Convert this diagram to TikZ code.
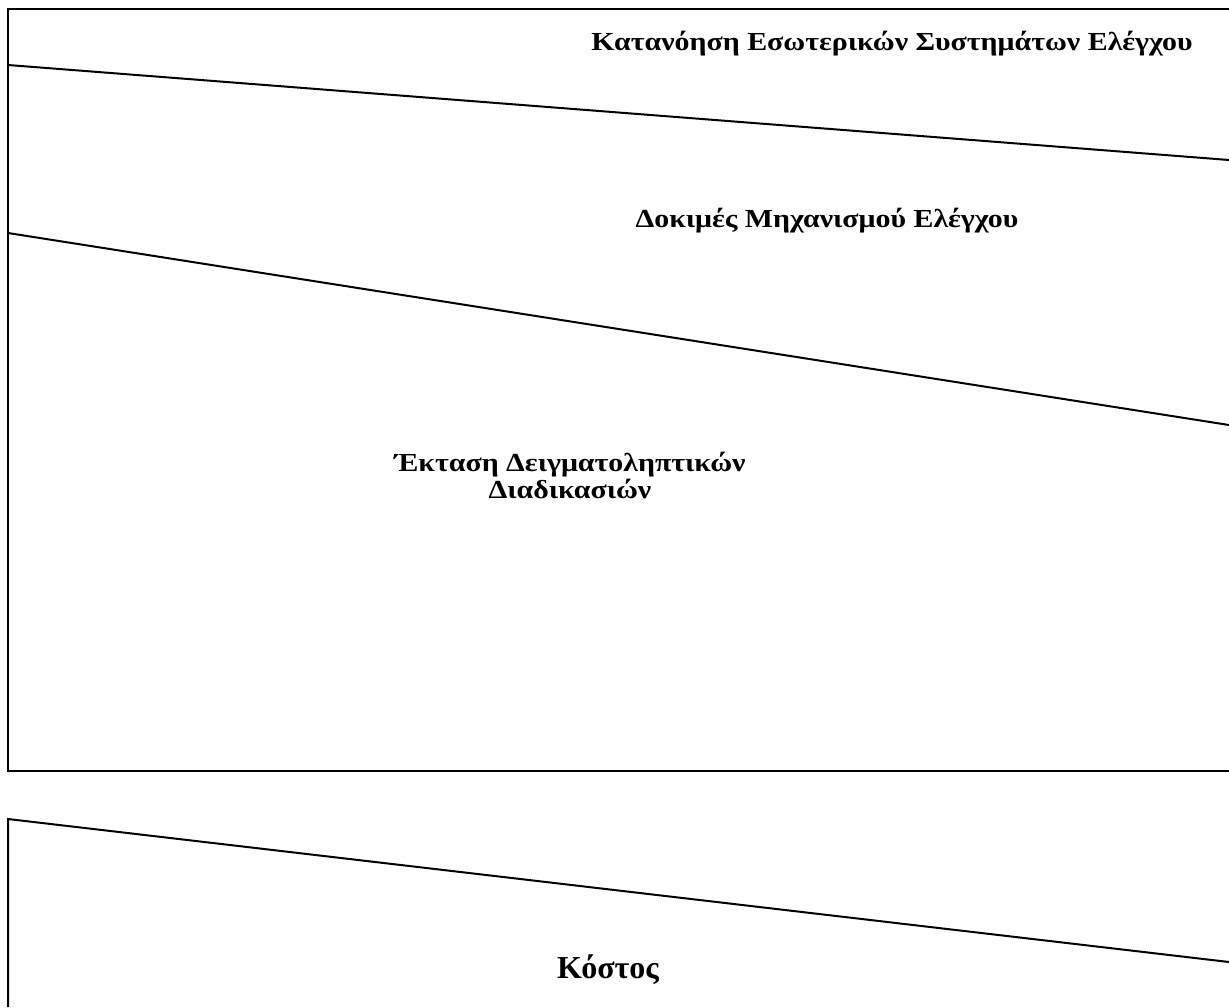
\documentclass[tikz,border=0pt]{standalone}
\usepackage{fontspec}
\setmainfont{Liberation Serif}
\newfontfamily\widefont[FakeStretch=1.15]{Liberation Serif}
\begin{document}
\begin{tikzpicture}[x=1pt,y=-1pt,
  edge/.style={line width=2pt,black},
  lbl/.style={font=\widefont\fontsize{26}{27}\selectfont\bfseries,anchor=base,inner sep=0pt,align=center},
  biglbl/.style={font=\fontsize{32}{34}\selectfont\bfseries,anchor=base,inner sep=0pt}]
\useasboundingbox (0,0) rectangle (1229,1007);
% top frame corners
\coordinate (tl) at (8,9);
\coordinate (tr) at (1229,9);
\coordinate (bl) at (8,771);
\coordinate (br) at (1229,771);
% dividing lines
\coordinate (a1) at (8,65);
\coordinate (a2) at (1229,160);
\coordinate (b1) at (8,233);
\coordinate (b2) at (1229,425);
% bottom frame
\coordinate (c0) at (8,1007);
\coordinate (c1) at (8,819);
\coordinate (c2) at (1229,962);

\draw[edge] (tr) -- (tl) -- (bl) -- (br);
\draw[edge] (a1) -- (a2);
\draw[edge] (b1) -- (b2);
\draw[edge] (c0) -- (c1) -- (c2);

\node[lbl] (t1) at (892,50) {Κατανόηση Εσωτερικών Συστημάτων Ελέγχου};
\node[lbl] (t2) at (827,227) {Δοκιμές Μηχανισμού Ελέγχου};
\node[lbl] (t3) at (570,498) {Έκταση Δειγματοληπτικών\\Διαδικασιών};
\node[biglbl] (t4) at (608,978) {Κόστος};
\end{tikzpicture}
\end{document}
